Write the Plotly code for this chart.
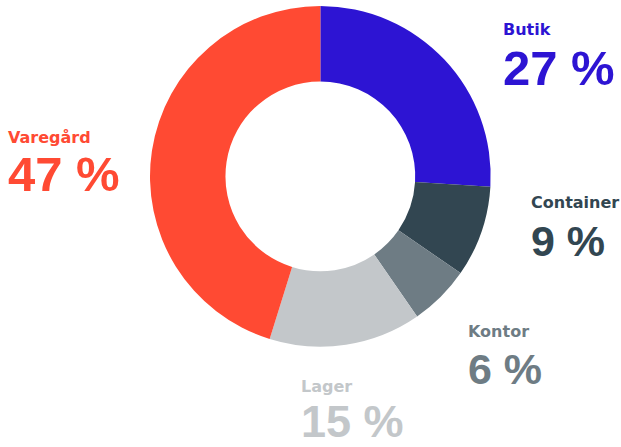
import plotly.graph_objects as go

# ---- data ----
categories = ["Butik", "Container", "Kontor", "Lager", "Varegård"]
values = [27, 9, 6, 15, 47]
colors = ["#2D14D3", "#324651", "#6E7C84", "#C3C7CA", "#FF4A33"]

W, H = 621, 447

# label placement (pixels: left x, name cap-center y, pct cap-center y, pct font size)
label_layout = {
    "Butik": (501, 29.5, 67.5, 49),
    "Container": (529, 202.5, 240.5, 43),
    "Kontor": (466, 331, 368.5, 43),
    "Lager": (299, 386.5, 421, 45),
    "Varegård": (6, 137.5, 174.2, 49),
}

fig = go.Figure()
fig.add_trace(go.Pie(
    labels=categories,
    values=values,
    marker=dict(colors=colors, line=dict(width=0)),
    hole=0.557,
    sort=False,
    direction="clockwise",
    rotation=0,
    textinfo="none",
    hoverinfo="label+value",
    showlegend=False,
    domain=dict(x=[150 / W, 490.7 / W], y=[1 - 346.7 / H, 1 - 6 / H]),
))

annotations = []
for cat, val, col in zip(categories, values, colors):
    x, yn, yp, fs = label_layout[cat]
    annotations.append(dict(
        x=x / W, y=1 - yn / H, xref="paper", yref="paper",
        xanchor="left", yanchor="middle", showarrow=False,
        text=f"<b>{cat}</b>",
        font=dict(family="DejaVu Sans", size=16, color=col),
    ))
    annotations.append(dict(
        x=x / W, y=1 - yp / H, xref="paper", yref="paper",
        xanchor="left", yanchor="middle", showarrow=False,
        text=f"<b>{val} %</b>",
        font=dict(family="Liberation Sans", size=fs, color=col),
    ))

fig.update_layout(
    width=W, height=H,
    margin=dict(l=0, r=0, t=0, b=0),
    paper_bgcolor="white", plot_bgcolor="white",
    annotations=annotations,
)

fig.write_html(
    "out.html",
    config={"displayModeBar": False},
    post_script="document.body.style.margin='0px';document.body.style.overflow='hidden';",
)
